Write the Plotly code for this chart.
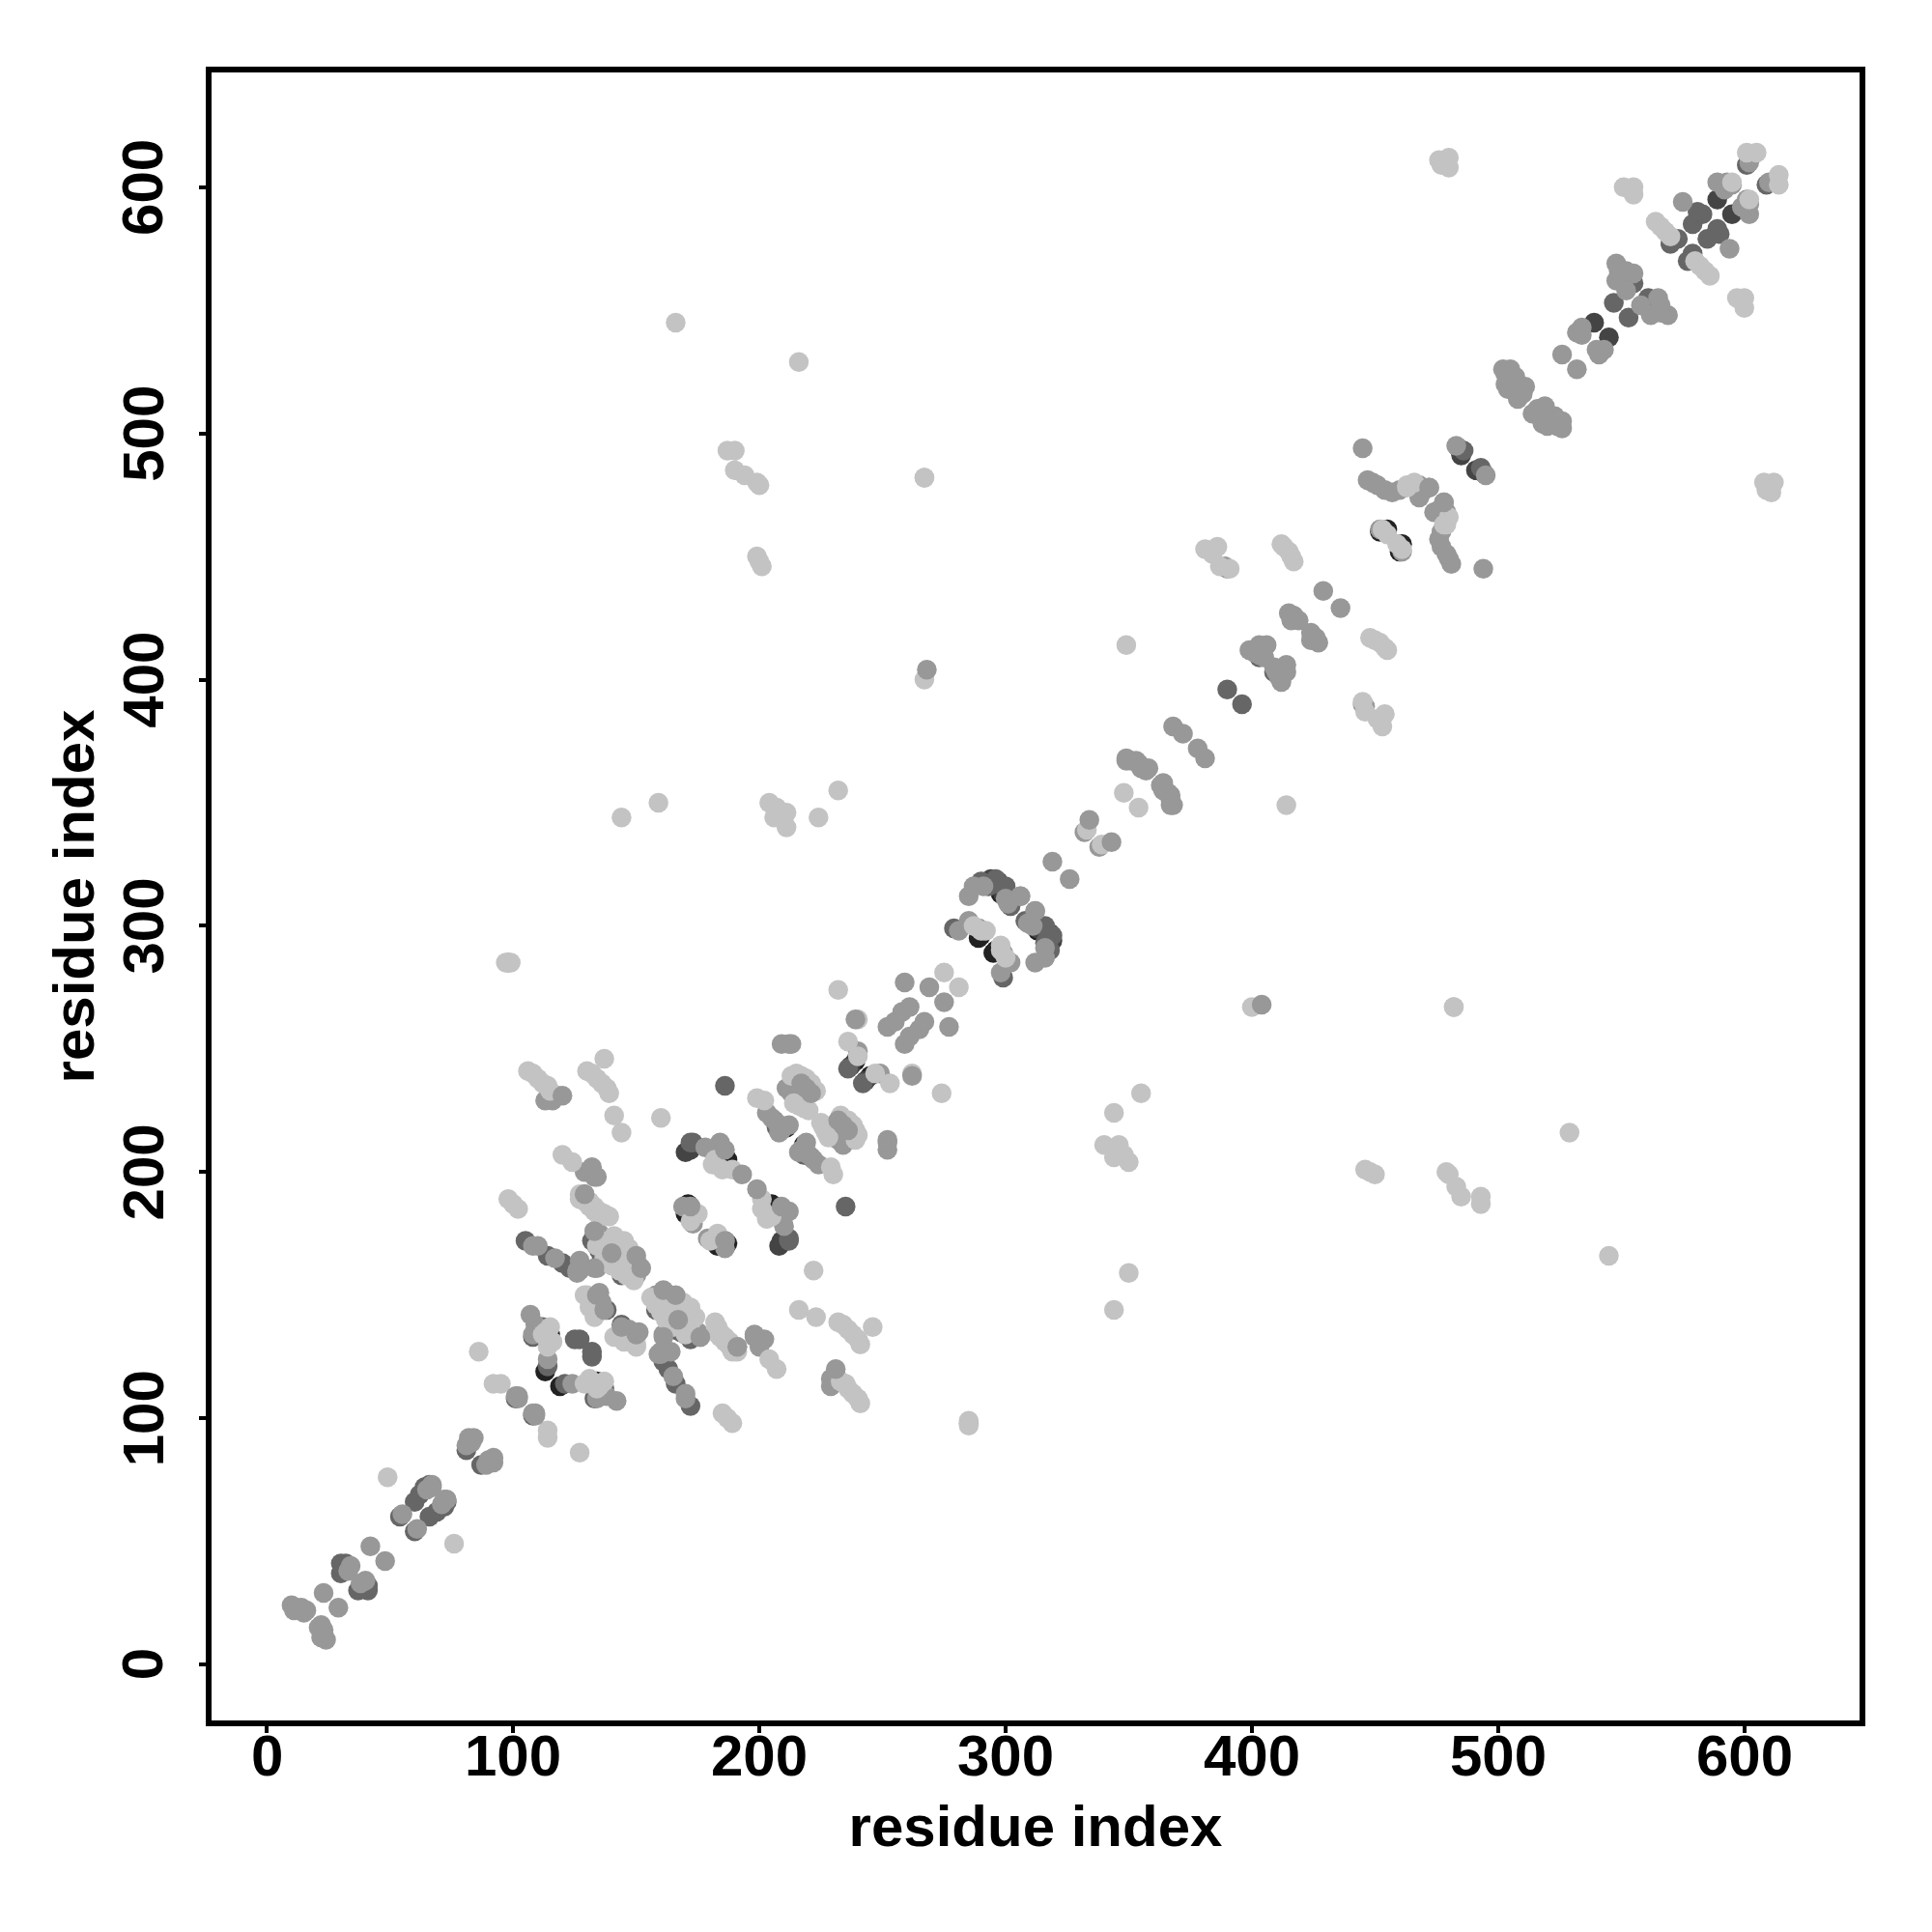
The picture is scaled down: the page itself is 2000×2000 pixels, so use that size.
import plotly.graph_objects as go

# Contact pairs (i, j); the map is symmetric, so each pair is drawn at (i,j) and (j,i).
black_pairs = [(171,187),(170,183),(187,205),(211,218),(239,245),(113,119),(290,296),(298,316),(452,460),
               (138,171),(143,165),(146,163),(134,170),(141,168),(114,131),(298,313),(210,218),(289,295),
               (147,160),(137,167),(115,134),(455,461)]
charcoal_pairs = [(539,545),(589,595),(170,208),(484,494),(172,209),(237,243),(299,313),(294,319),(297,318),(485,491)]
dark_pairs = [(186,235),(173,212),(206,221),(105,172),(114,166),(120,163),(123,161),(138,144),(125,132),(127,132),
              (114,121),(101,108),(236,242),(64,72),(66,73),(62,69),(30,41),(32,41),(30,37),(81,87),(290,318),
              (296,319),(279,299),(302,308),(390,396),(486,493),(555,561),(547,553),(579,585),(583,589),(581,590),
              (573,579),(570,577),(601,609),(132,172),(136,165),(144,158),(113,134),(112,137),(297,317),(108,133),
              (135,168),(54,60),(403,409),(172,185),(293,316),(172,186),(172,212),(207,218),(300,316),(60,66)]
mid_pairs = [(113,229),(116,229),(118,231),(203,224),(205,222),(207,220),(209,217),(212,219),(208,216),(213,232),
             (211,234),(240,249),(184,212),(178,210),(129,200),(132,202),(134,198),(129,191),(173,179),(133,176),
             (135,175),(137,173),(139,172),(141,170),(143,168),(145,167),(147,165),(149,163),(151,162),(135,171),
             (138,168),(141,166),(144,164),(147,161),(150,158),(136,173),(139,170),(142,167),(146,163),(108,170),
             (110,170),(117,165),(127,160),(126,159),(134,161),(134,150),(136,147),(107,142),(109,138),(108,134),
             (111,135),(113,133),(114,124),(102,109),(102,108),(10,24),(11,22),(12,23),(14,23),(16,22),(15,21),
             (23,29),(34,40),(33,38),(42,48),(55,61),(67,73),(81,89),(82,92),(84,92),(83,90),(98,285),(285,312),
             (287,316),(291,316),(300,311),(306,312),(285,302),(289,299),(281,298),(301,309),(259,277),(269,275),
             (252,259),(255,261),(258,265),(261,267),(319,326),(332,338),(349,367),(351,367),(353,367),(354,366),
             (355,364),(357,363),(358,364),(349,368),(368,381),(372,378),(399,412),(401,411),(403,410),(405,409),
             (403,414),(406,414),(415,427),(417,426),(419,424),(416,424),(429,436),(389,446),(390,445),(445,494),
             (447,481),(449,480),(451,479),(454,477),(457,476),(460,477),(468,479),(469,476),(468,474),(483,495),
             (452,461),(502,526),(503,524),(505,522),(506,519),(507,517),(509,518),(510,516),(504,518),(505,526),
             (507,523),(503,520),(511,519),(508,514),(548,569),(549,566),(548,562),(552,566),(555,565),(552,558),
             (526,532),(532,541),(534,543),(534,540),(575,594),(589,602),(593,602),(592,599),(602,610),(595,601),
             (472,478),(169,186),(209,252)]
light_pairs = [(106,241),(108,240),(110,238),(112,236),(114,235),(115,233),(130,241),(132,240),(134,238),(136,236),
               (138,234),(139,232),(137,246),(141,223),(144,216),(160,222),(199,230),(202,229),(189,201),(185,201),
               (181,203),(182,205),(213,239),(215,240),(217,239),(219,238),(221,236),(223,233),(214,228),(216,227),
               (218,226),(220,225),(236,253),(240,247),(240,262),(120,207),(124,204),(98,189),(100,187),(102,185),
               (127,191),(129,190),(131,188),(133,186),(135,184),(137,183),(139,182),(129,188),(131,186),(127,189),
               (133,184),(135,182),(136,172),(134,170),(141,174),(145,172),(147,169),(146,158),(149,156),(143,160),
               (140,162),(137,165),(137,170),(139,168),(141,172),(143,170),(145,167),(148,164),(143,163),(146,161),
               (129,150),(131,148),(133,146),(131,145),(133,141),(130,150),(115,137),(113,135),(114,129),(116,131),
               (112,134),(175,183),(172,180),(92,114),(95,114),(86,127),(49,76),(166,545),(216,529),(187,493),(190,493),
               (190,485),(194,483),(199,480),(200,479),(199,450),(200,448),(201,446),(267,482),(267,400),(159,350),
               (144,344),(204,350),(207,348),(211,346),(211,340),(206,344),(224,344),(232,355),(99,285),(97,285),
               (275,281),(232,274),(287,300),(290,298),(292,298),(333,339),(348,354),(349,414),(381,453),(384,451),
               (386,454),(387,446),(391,445),(412,455),(413,454),(415,452),(416,450),(417,448),(453,461),(455,459),
               (463,479),(466,480),(476,611),(480,612),(477,609),(480,608),(551,600),(555,600),(555,597),(564,586),
               (566,584),(568,582),(570,580),(601,614),(605,614),(595,602),(463,478),(482,267)]
# Drawn last, over the light dots.
mid_top_pairs = [(268,404),(334,343),(120,231),(186,209),(239,262),(193,199),(172,186),(137,144),(133,161),(212,252),
                 (213,252),(152,161),(150,166),(140,167),(133,176),(133,198),(127,164),(126,160),(135,151),(129,191),
                 (306,312),(472,478),(65,71),(67,72),(101,109),(134,150),(217,236),(219,234),(221,232)]

tick_values = [0, 100, 200, 300, 400, 500, 600]
axis_label = "residue index"

groups = [
    (black_pairs, "#222222"),
    (charcoal_pairs, "#444444"),
    (dark_pairs, "#666666"),
    (mid_pairs, "#989898"),
    (light_pairs, "#c3c3c3"),
    (mid_top_pairs, "#989898"),
]

fig = go.Figure()
for pairs, colour in groups:
    xs = [p[0] for p in pairs] + [p[1] for p in pairs]
    ys = [p[1] for p in pairs] + [p[0] for p in pairs]
    fig.add_trace(go.Scatter(
        x=xs, y=ys, mode="markers",
        marker=dict(size=20.5, color=colour, line=dict(width=0)),
        showlegend=False, hoverinfo="skip", cliponaxis=False,
    ))

font = dict(family="Liberation Sans", size=60, color="black", weight="bold")
axis = dict(
    tickmode="array", tickvals=tick_values, showticklabels=False,
    ticks="outside", ticklen=7, tickwidth=4, tickcolor="black",
    showline=True, linecolor="black", linewidth=6, mirror=True,
    showgrid=False, zeroline=False,
)
# Tick labels as text, so the rotated y labels centre on their ticks.
annotations = []
for t in tick_values:
    annotations.append(dict(x=t, xref="x", y=-0.0214, yref="paper", text=f"<b>{t}</b>", showarrow=False,
                            xanchor="center", yanchor="middle", font=font))
    annotations.append(dict(x=-0.0415, xref="paper", y=t, yref="y", text=f"<b>{t}</b>", showarrow=False,
                            textangle=-90, xanchor="center", yanchor="middle", font=font))

fig.update_layout(
    width=2000, height=2000, autosize=False,
    paper_bgcolor="white", plot_bgcolor="white",
    margin=dict(l=211, r=83, t=67, b=227, pad=0),
    annotations=annotations,
    xaxis=dict(axis, range=[-22.5, 646.8],
               title=dict(text=f"<b>{axis_label}</b>", font=font, standoff=78)),
    yaxis=dict(axis, range=[-22.76, 646.6],
               title=dict(text=f"<b>{axis_label}</b>", font=font, standoff=91)),
)
fig.write_html("out.html")
